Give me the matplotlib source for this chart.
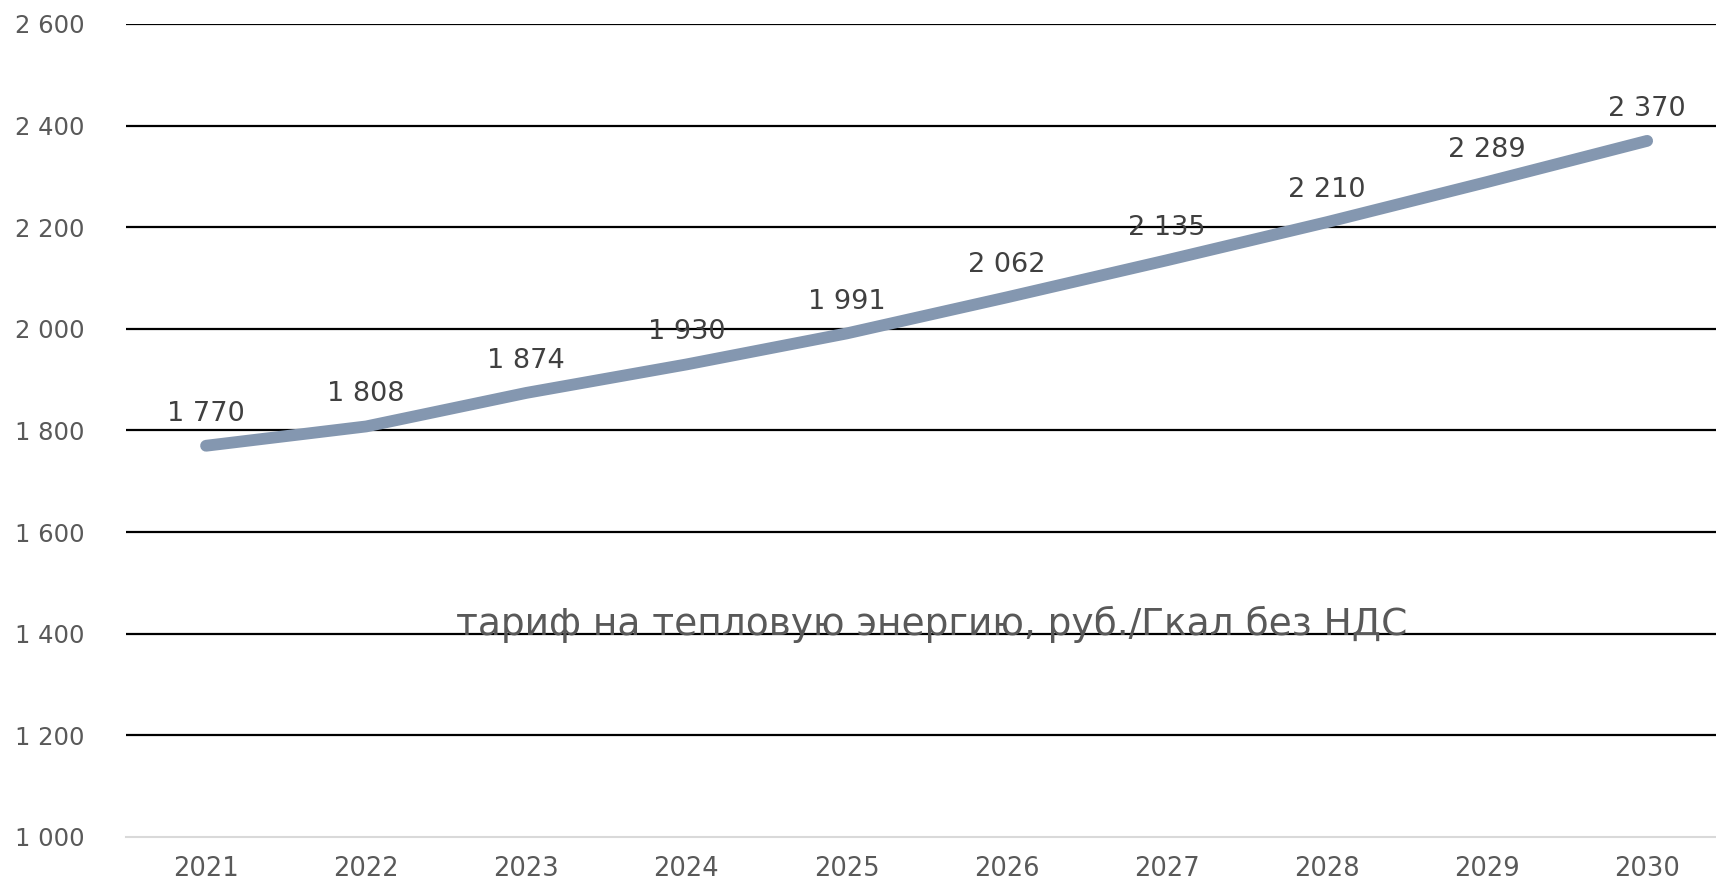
import matplotlib.pyplot as plt
from matplotlib.ticker import FuncFormatter

# data
years = ['2021', '2022', '2023', '2024', '2025', '2026', '2027', '2028', '2029', '2030']
tariff = [1770, 1808, 1874, 1930, 1991, 2062, 2135, 2210, 2289, 2370]
y_ticks = [1000, 1200, 1400, 1600, 1800, 2000, 2200, 2400, 2600]
title = 'тариф на тепловую энергию, руб./Гкал без НДС'

text_grey = '#595959'
line_colour = '#8497B0'


def space_fmt(v, pos=None):
    # thousands separated by a space
    return f'{int(v):,}'.replace(',', ' ')


fig = plt.figure(figsize=(17.16, 8.82), dpi=100)
ax = fig.add_axes([126 / 1716, 45 / 882, 1 - 126 / 1716, 813 / 882])

x = [i + 0.5 for i in range(len(years))]
ax.plot(x, tariff, color=line_colour, linewidth=8.5, solid_capstyle='round', zorder=3)

# data labels above each point
for xi, v in zip(x, tariff):
    ax.annotate(space_fmt(v), (xi, v), xytext=(0, 23), textcoords='offset points',
                ha='center', va='center', fontsize=19.5, color='#404040', zorder=4)

ax.set_xlim(0, 9.93)
ax.set_ylim(1000, 2600)
ax.set_xticks(x)
ax.set_xticklabels(years)
ax.set_yticks(y_ticks)
ax.yaxis.set_major_formatter(FuncFormatter(space_fmt))

# grid lines
for t in y_ticks[1:]:
    ax.axhline(t, color='black', linewidth=1.6, zorder=1)

for s in ['top', 'right', 'left']:
    ax.spines[s].set_visible(False)
ax.spines['bottom'].set_color('#d9d9d9')
ax.spines['bottom'].set_linewidth(1.5)
ax.tick_params(length=0, labelcolor=text_grey)
ax.tick_params(axis='y', pad=30, labelsize=17.5)
ax.tick_params(axis='x', pad=14, labelsize=18.5)

ax.text(5.03, 1398, title, ha='center', va='baseline',
        fontsize=27, color=text_grey, zorder=5)

plt.savefig('out.png', dpi=100)
